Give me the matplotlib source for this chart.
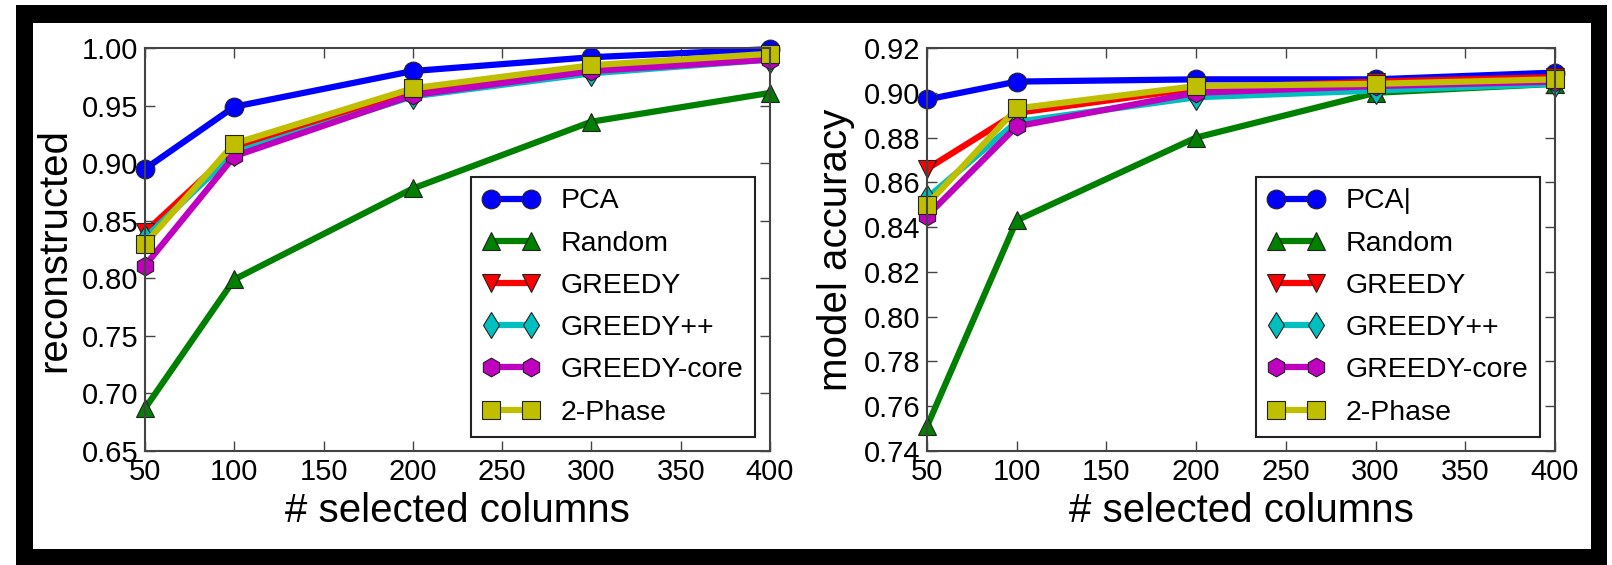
import matplotlib
matplotlib.use("Agg")
import matplotlib.pyplot as plt
from matplotlib.patches import Rectangle

x_cols = [50, 100, 200, 300, 400]
methods = ["PCA", "Random", "GREEDY", "GREEDY++", "GREEDY-core", "2-Phase"]

# left panel: reconstructed
recon_pca = [0.895, 0.949, 0.980, 0.992, 0.999]
recon_random = [0.687, 0.799, 0.878, 0.936, 0.961]
recon_greedy = [0.840, 0.912, 0.962, 0.982, 0.993]
recon_greedypp = [0.835, 0.909, 0.958, 0.978, 0.990]
recon_core = [0.811, 0.906, 0.959, 0.980, 0.990]
recon_2phase = [0.830, 0.917, 0.965, 0.985, 0.995]

# right panel: model accuracy
acc_pca = [0.897, 0.905, 0.906, 0.906, 0.909]
acc_random = [0.751, 0.843, 0.880, 0.900, 0.904]
acc_greedy = [0.866, 0.891, 0.902, 0.905, 0.907]
acc_greedypp = [0.853, 0.887, 0.898, 0.901, 0.904]
acc_core = [0.845, 0.885, 0.900, 0.903, 0.905]
acc_2phase = [0.850, 0.893, 0.903, 0.904, 0.906]

colors = ["#0000ff", "#008000", "#ff0000", "#00bfbf", "#bf00bf", "#bfbf00"]
markers = ["o", "^", "v", "d", "h", "s"]

plt.rcParams["font.family"] = ["Liberation Sans", "DejaVu Sans"]

fig = plt.figure(figsize=(16.12, 5.65), dpi=100)
fig.patch.set_facecolor("white")
# black photo frame with white inner area
fig.patches.append(Rectangle((16 / 1612, 0), (1607 - 16) / 1612, 560 / 565,
                             transform=fig.transFigure, facecolor="black",
                             edgecolor="none", zorder=-10))
fig.patches.append(Rectangle((33 / 1612, 16 / 565), (1591 - 33) / 1612, (549 - 23) / 565,
                             transform=fig.transFigure, facecolor="white",
                             edgecolor="none", zorder=-9))


def panel(rect, series, ylabel, ylim, yticks, leg_labels, leg_anchor):
    ax = fig.add_axes(rect)
    handles = []
    for vals, c, m in zip(series, colors, markers):
        h, = ax.plot(x_cols, vals, color=c, marker=m, markersize=13.5, lw=4.5,
                     markeredgecolor="#222222", markeredgewidth=0.8, clip_on=False)
        handles.append(h)
    ax.set_xlim(50, 400)
    ax.set_ylim(*ylim)
    ax.set_xticks([50, 100, 150, 200, 250, 300, 350, 400])
    ax.set_yticks(yticks)
    ax.set_yticklabels([f"{v:.2f}" for v in yticks])
    ax.tick_params(direction="in", top=True, right=True, length=7, width=1,
                   color="#444444", labelsize=21, pad=5)
    for s in ax.spines.values():
        s.set_color("#444444")
        s.set_linewidth(1.5)
    ax.set_xlabel("# selected columns", fontsize=29, labelpad=4)
    ax.set_ylabel(ylabel, fontsize=29, labelpad=6)
    leg = ax.legend(handles, leg_labels, loc="lower right", bbox_to_anchor=leg_anchor,
                    bbox_transform=fig.transFigure, borderaxespad=0, fontsize=20.5,
                    numpoints=2, handlelength=2.0, handletextpad=0.75, labelspacing=0.57,
                    fancybox=False, framealpha=1, edgecolor="#222222")
    leg.get_frame().set_linewidth(1.5)
    return ax


panel([145 / 1612, 114 / 565, 625 / 1612, 403 / 565],
      [recon_pca, recon_random, recon_greedy, recon_greedypp, recon_core, recon_2phase],
      "reconstructed", (0.65, 1.00),
      [0.65, 0.70, 0.75, 0.80, 0.85, 0.90, 0.95, 1.00],
      methods, (755 / 1612, 128 / 565))

panel([927 / 1612, 114 / 565, 628 / 1612, 403 / 565],
      [acc_pca, acc_random, acc_greedy, acc_greedypp, acc_core, acc_2phase],
      "model accuracy", (0.74, 0.92),
      [0.74, 0.76, 0.78, 0.80, 0.82, 0.84, 0.86, 0.88, 0.90, 0.92],
      ["PCA|"] + methods[1:], (1540 / 1612, 128 / 565))

fig.savefig("out.png", dpi=100)
